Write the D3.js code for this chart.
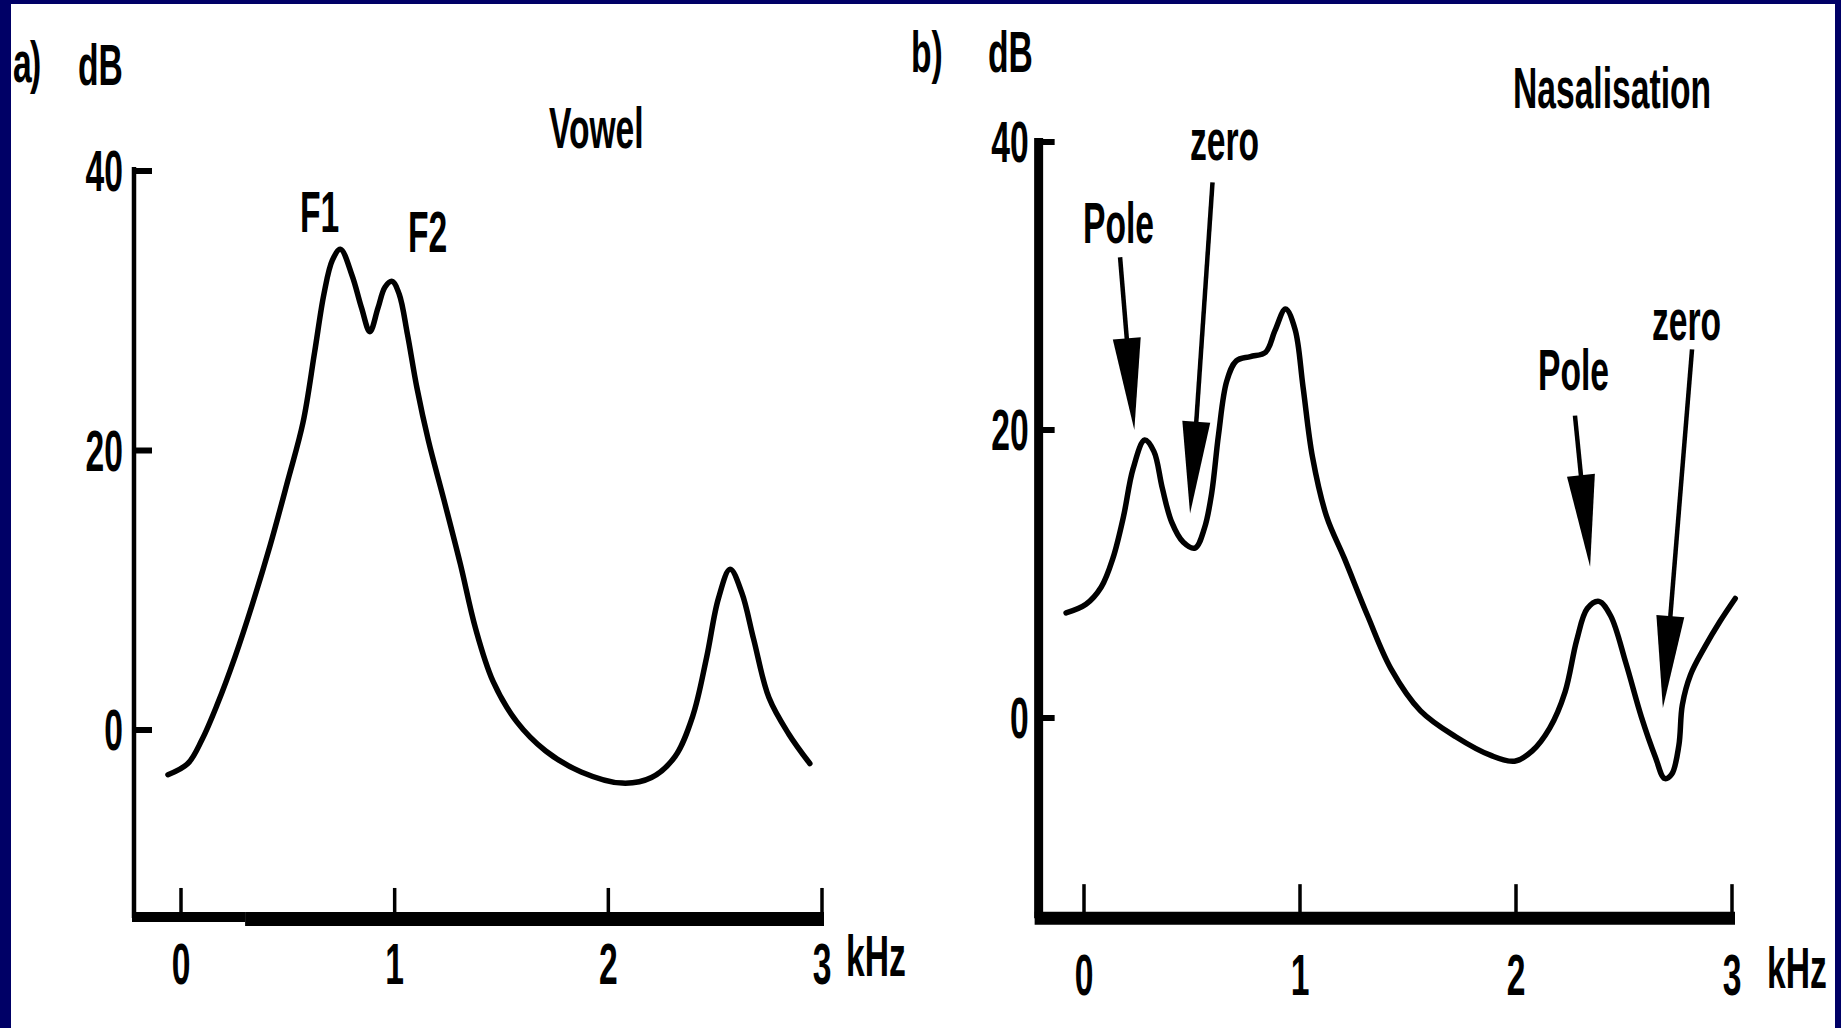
<!DOCTYPE html>
<html><head><meta charset="utf-8">
<script src="https://cdn.jsdelivr.net/npm/d3@7"></script>
<style>
html,body{margin:0;padding:0;background:#fff;overflow:hidden;}
svg{display:block;}
text{font-family:"Liberation Sans",Arial,Helvetica,sans-serif;fill:#000;font-weight:bold;}
</style></head><body>
<svg id="chart" width="1841" height="1028"></svg>
<script>
// ---------------- DATA ----------------
// Panel a) Vowel spectrum (frequency in kHz, level in dB)
const vowelFreq = [-0.061,0.032,0.098,0.169,0.252,0.334,0.417,0.499,0.571,0.625,0.669,0.708,0.746,0.801,0.845,0.884,0.922,0.955,0.988,1.021,1.06,1.104,1.158,1.23,1.307,1.378,1.46,1.571,1.707,1.873,2.065,2.202,2.312,2.395,2.46,2.515,2.57,2.625,2.68,2.752,2.845,2.943];
const vowelDb   = [-3.2,-2.4,-0.7,1.8,5.2,9.0,13.2,17.8,22.0,27.0,31.2,33.6,34.4,32.5,30.2,28.5,30.2,31.7,32.1,31.2,28.3,24.5,20.7,16.5,11.9,7.3,3.5,0.6,-1.5,-3.0,-3.8,-3.4,-1.9,1.0,5.2,9.4,11.5,9.8,6.5,2.3,-0.3,-2.4];

// Panel b) Nasalisation spectrum
const nasalFreq = [-0.083,0.009,0.08,0.134,0.183,0.227,0.281,0.324,0.362,0.406,0.46,0.514,0.558,0.591,0.623,0.661,0.705,0.77,0.841,0.884,0.933,0.977,1.014,1.058,1.123,1.205,1.313,1.422,1.558,1.721,1.884,1.993,2.074,2.156,2.227,2.281,2.33,2.384,2.438,2.509,2.58,2.645,2.688,2.721,2.754,2.77,2.808,2.873,2.944,3.015];
const nasalDb   = [7.3,7.9,9.1,11.1,14.0,17.3,19.3,18.5,16.0,13.6,12.2,11.8,13.2,15.6,19.7,23.4,24.8,25.1,25.4,26.9,28.4,27.0,23.0,18.1,14.0,11.1,7.1,3.4,0.5,-1.3,-2.6,-3.0,-2.3,-0.7,1.8,5.4,7.6,8.1,7.1,3.8,0.1,-2.7,-4.2,-3.9,-1.9,0.9,3.0,4.9,6.7,8.3];

// Axis ticks
const xTicks = [0, 1, 2, 3];
const xTickLabels = ["0", "1", "2", "3"];
const yTicks = [0, 20, 40];
const yTickLabels = ["0", "20", "40"];

// Arrow annotations on panel b (from [kHz,dB] to tip [kHz,dB])
const arrowText  = ["Pole", "zero", "Pole", "zero"];
const arrowFrom  = [[0.167, 32.0], [0.595, 37.2], [2.273, 21.0], [2.815, 25.6]];
const arrowTo    = [[0.233, 20.0], [0.491, 14.2], [2.343, 10.5], [2.680, 0.7]];

// ---------------- LAYOUT ----------------
const W = 1841, H = 1028;
const FS = 57, SX = 0.59;
const svg = d3.select("#chart");

svg.append("rect").attr("x",0).attr("y",0).attr("width",W).attr("height",H).attr("fill","#000066");
svg.append("rect").attr("x",11).attr("y",4).attr("width",1824).attr("height",H-4).attr("fill","#ffffff");

function label(g, str, x, y, anchor) {
  return g.append("text")
    .attr("transform", `translate(${x},${y}) scale(${SX},1)`)
    .attr("text-anchor", anchor || "start")
    .attr("font-size", FS)
    .text(str);
}

const panels = [
  { freq: vowelFreq, db: vowelDb,
    xRange: [181, 822], yRange: [730, 171], xMin: -0.22, yMin: -13.45,
    yAxisW: 4.5, yTickLen: 18, xTickLen: 30, xTickLabelY: 984, yLabelGap: 11,
    kHzDx: 24, kHzY: 976 },
  { freq: nasalFreq, db: nasalDb,
    xRange: [1084, 1732], yRange: [718, 142], xMin: -0.21, yMin: -13.9,
    yAxisW: 9, yTickLen: 16, xTickLen: 34, xTickLabelY: 995, yLabelGap: 10,
    kHzDx: 35, kHzY: 988 }
];

panels.forEach((p, i) => {
  const g = svg.append("g");
  const x = d3.scaleLinear().domain([0, 3]).range(p.xRange);
  const y = d3.scaleLinear().domain([0, 40]).range(p.yRange);
  p.x = x; p.y = y; p.g = g;

  const x0 = x(p.xMin), yb = y(p.yMin);

  // y axis line
  g.append("line").attr("x1", x0).attr("x2", x0).attr("y1", y(40) - 4).attr("y2", yb)
    .attr("stroke", "#000").attr("stroke-width", p.yAxisW);
  // y ticks (pointing right)
  g.selectAll(".yt").data(yTicks).join("line")
    .attr("x1", x0).attr("x2", x0 + p.yTickLen)
    .attr("y1", d => y(d)).attr("y2", d => y(d))
    .attr("stroke", "#000").attr("stroke-width", 6);
  // y tick labels
  yTicks.forEach((t, k) => {
    label(g, yTickLabels[k], x0 - p.yLabelGap, y(t) + FS * 0.358, "end");
  });

  // x axis line
  if (i === 0) {
    g.append("line").attr("x1", x0 - 2).attr("x2", x(0.3)).attr("y1", yb - 1).attr("y2", yb - 1)
      .attr("stroke", "#000").attr("stroke-width", 10);
    g.append("line").attr("x1", x(0.3)).attr("x2", x(3) + 2).attr("y1", yb + 1).attr("y2", yb + 1)
      .attr("stroke", "#000").attr("stroke-width", 14);
  } else {
    g.append("line").attr("x1", x0 - 4).attr("x2", x(3) + 3).attr("y1", yb).attr("y2", yb)
      .attr("stroke", "#000").attr("stroke-width", 13);
  }
  // x ticks (pointing up)
  g.selectAll(".xt").data(xTicks).join("line")
    .attr("x1", d => x(d)).attr("x2", d => x(d))
    .attr("y1", yb).attr("y2", yb - p.xTickLen)
    .attr("stroke", "#000").attr("stroke-width", 3.5);
  // x tick labels
  xTicks.forEach((t, k) => {
    label(g, xTickLabels[k], x(t), p.xTickLabelY, "middle");
  });
  label(g, "kHz", x(3) + p.kHzDx, p.kHzY, "start");

  // spectrum curve
  const pts = p.freq.map((f, k) => [f, p.db[k]]);
  const line = d3.line().x(d => x(d[0])).y(d => y(d[1])).curve(d3.curveCatmullRom.alpha(0.5));
  g.append("path").datum(pts).attr("d", line)
    .attr("fill", "none").attr("stroke", "#000").attr("stroke-width", 5.5)
    .attr("stroke-linejoin", "round").attr("stroke-linecap", "round");
});

// ---------------- TEXT LABELS ----------------
label(svg, "a", 13, 82);
label(svg, ")", 30, 82);
label(svg, "dB", 78, 85);
label(svg, "Vowel", 549, 148);
label(svg, "F1", 300, 232);
label(svg, "F2", 408, 252);

label(svg, "b)", 911, 72);
label(svg, "dB", 988, 72);
label(svg, "Nasalisation", 1513, 108);

// ---------------- ARROWS (panel b) ----------------
const pb = panels[1];
const arrowLabelPos = [[1083, 243], [1190, 160], [1538, 390], [1652, 340]];
arrowFrom.forEach((a, k) => {
  const p0 = [pb.x(a[0]), pb.y(a[1])];
  const p1 = [pb.x(arrowTo[k][0]), pb.y(arrowTo[k][1])];
  const dx = p1[0] - p0[0], dy = p1[1] - p0[1];
  const L = Math.hypot(dx, dy);
  const ux = dx / L, uy = dy / L;
  const headLen = 92, halfW = 14;
  const bx = p1[0] - ux * headLen, by = p1[1] - uy * headLen;
  pb.g.append("line").attr("x1", p0[0]).attr("y1", p0[1]).attr("x2", bx + ux * 4).attr("y2", by + uy * 4)
    .attr("stroke", "#000").attr("stroke-width", 4.5);
  pb.g.append("path")
    .attr("d", `M${bx - uy * halfW},${by + ux * halfW}L${bx + uy * halfW},${by - ux * halfW}L${p1[0]},${p1[1]}Z`)
    .attr("fill", "#000");
  label(svg, arrowText[k], arrowLabelPos[k][0], arrowLabelPos[k][1]);
});
</script>
</body></html>
